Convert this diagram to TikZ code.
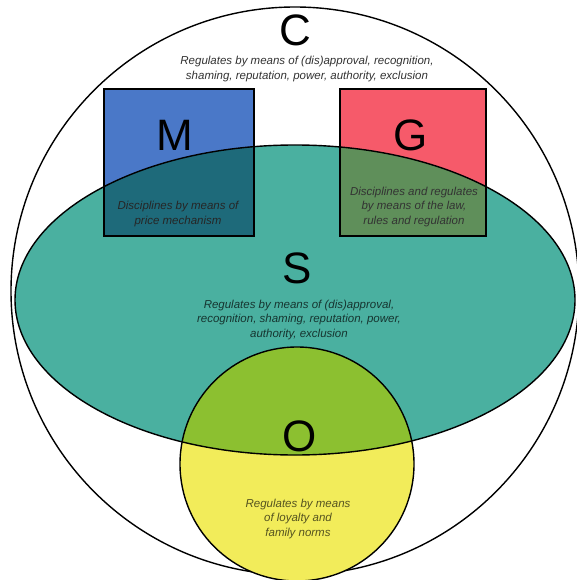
\documentclass[tikz,border=0pt]{standalone}
\usepackage{fontspec}
\setmainfont{Liberation Sans}
\usepackage{tikz}
\usetikzlibrary{positioning}

\definecolor{mblue}{HTML}{4A78C8}
\definecolor{mteal}{HTML}{1E6A7A}
\definecolor{gred}{HTML}{F65A6A}
\definecolor{golive}{HTML}{5F8F5A}
\definecolor{steal}{HTML}{4AB0A0}
\definecolor{ogreen}{HTML}{8CC030}
\definecolor{oyellow}{HTML}{F2EC5A}

\begin{document}
\begin{tikzpicture}[x=1pt,y=-1pt,
  outline/.style={draw=black,line width=1.4pt},
  bigletter/.style={font=\fontsize{44}{44}\selectfont,inner sep=0pt},
  means/.style={font=\fontsize{11.5}{14.5}\selectfont\itshape,align=center,inner sep=0pt},
]
\useasboundingbox (0,0) rectangle (577,580);

% === C: the outer circle ===
\draw[outline,fill=white] (295,291) circle (284);

% === M and G squares ===
\fill[mblue] (104,89) rectangle (254,236);
\fill[gred] (340,89) rectangle (486,236);

% === S ellipse ===
\fill[steal] (295,300) ellipse (280 and 155);
\begin{scope}
  \clip (295,300) ellipse (280 and 155);
  \fill[mteal] (104,89) rectangle (254,236);
  \fill[golive] (340,89) rectangle (486,236);
\end{scope}

% === O circle ===
\fill[oyellow] (297,464) circle (117);
\begin{scope}
  \clip (295,300) ellipse (280 and 155);
  \fill[ogreen] (297,464) circle (117);
\end{scope}

% outlines on top
\draw[outline] (104,89) rectangle (254,236);
\draw[outline] (340,89) rectangle (486,236);
\draw[outline] (295,300) ellipse (280 and 155);
\draw[outline] (297,464) circle (117);

% === Labels ===
\node[bigletter] (cletter) at (295,30) {C};
\node[means,text=black!80] (ctext) at (307,69)
  {Regulates by means of (dis)approval, recognition,\\shaming, reputation, power, authority, exclusion};

\node[bigletter] (mletter) at (175,135) {M};
\node[means,text=black!85] (mtext) at (178,214)
  {Disciplines by means of\\price mechanism};

\node[bigletter] (gletter) at (411,135) {G};
\node[means,text=black!80] (gtext) at (414,207)
  {Disciplines and regulates\\by means of the law,\\rules and regulation};

\node[bigletter] (sletter) at (297,268) {S};
\node[means,text=steal!30!black] (stext) at (299,320)
  {Regulates by means of (dis)approval,\\recognition, shaming, reputation, power,\\authority, exclusion};

\node[bigletter] (oletter) at (300,436) {O};
\node[means,text=oyellow!35!black] (otext) at (298,519)
  {Regulates by means\\of loyalty and\\family norms};

\end{tikzpicture}
\end{document}
